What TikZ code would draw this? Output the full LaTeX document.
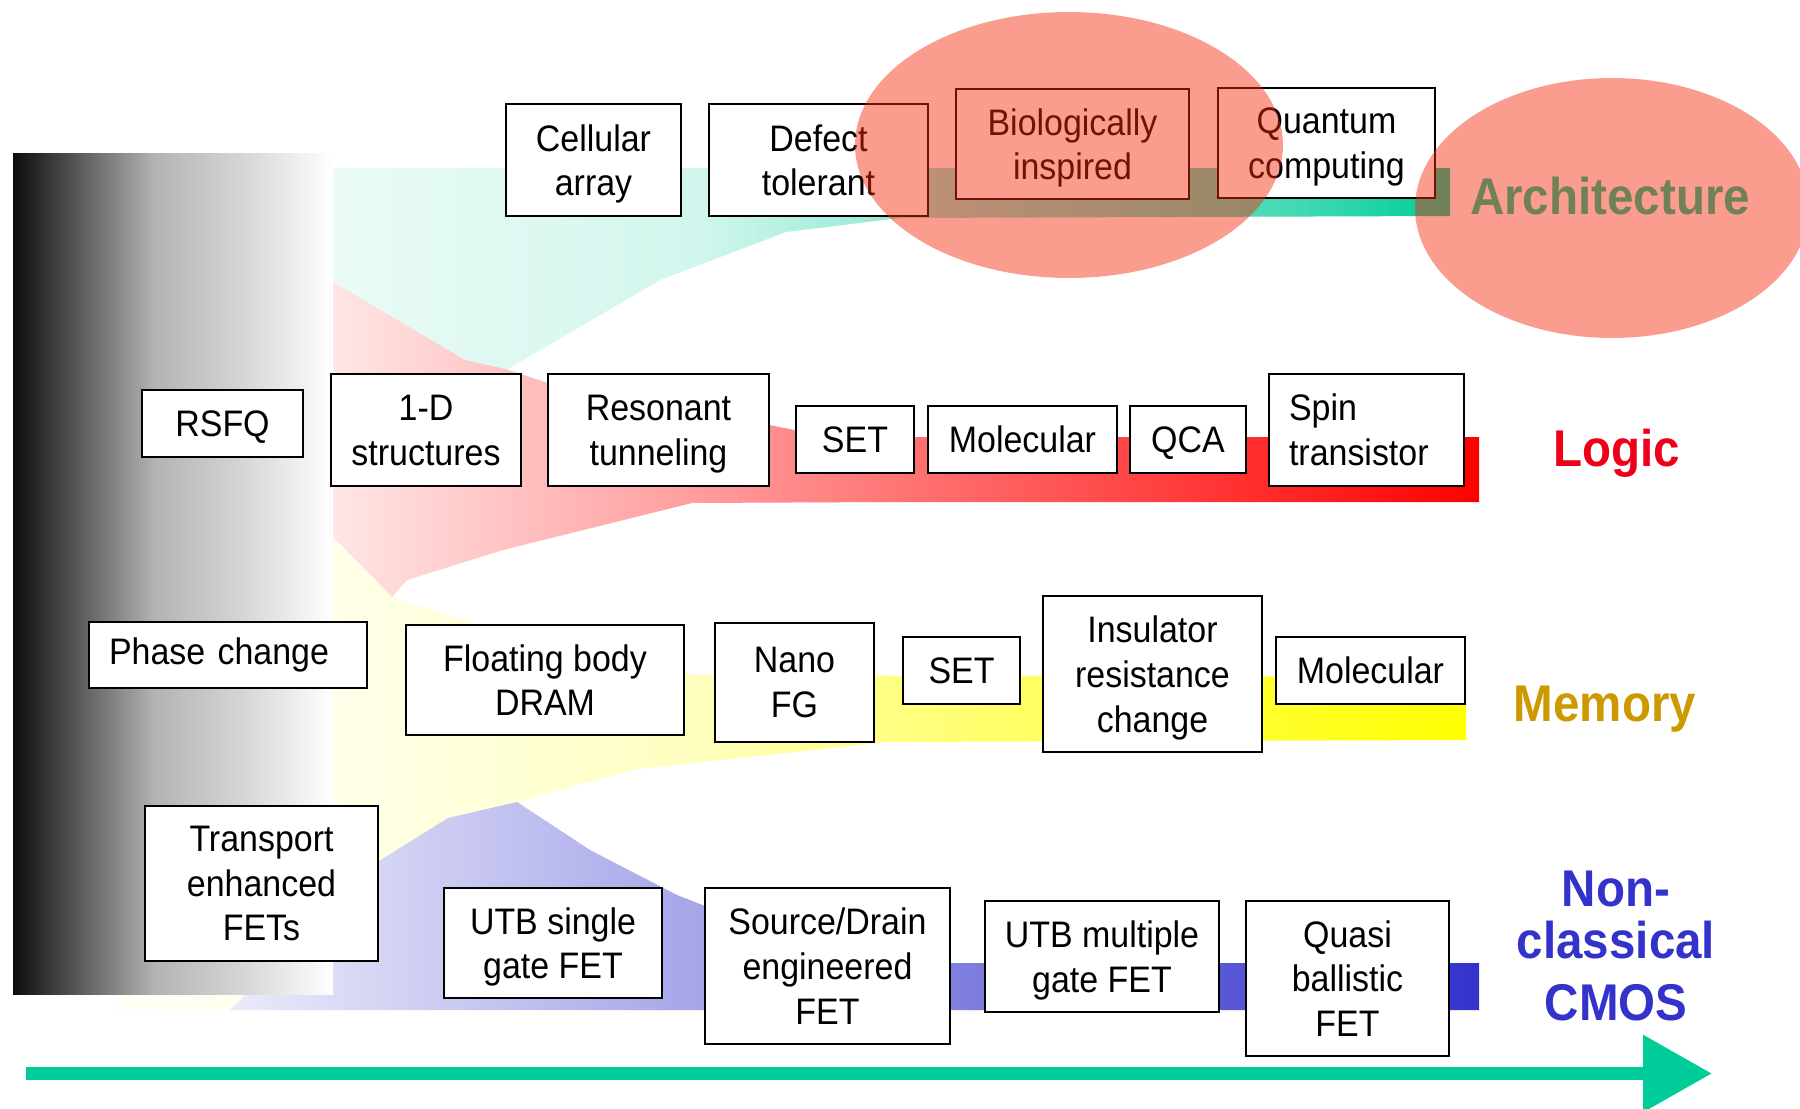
\documentclass[tikz,border=0pt]{standalone}
\usepackage{fontspec}
\setmainfont{Liberation Sans}[FakeStretch=0.92]
\usetikzlibrary{arrows.meta}

\definecolor{archgreen}{RGB}{0,204,153}
\definecolor{logicred}{RGB}{255,0,0}
\definecolor{memyellow}{RGB}{255,255,0}
\definecolor{cmosblue}{RGB}{51,51,204}
\definecolor{memgold}{RGB}{204,153,0}
\definecolor{labelred}{RGB}{238,0,24}
\definecolor{hilite}{RGB}{245,40,10}

\colorlet{barA}{black!95}
\colorlet{barB}{black!30}
\colorlet{barC}{black!15}
\colorlet{agA}{archgreen!8}
\colorlet{agB}{archgreen!18}
\colorlet{agC}{archgreen!40}
\colorlet{agD}{archgreen!75}
\colorlet{myA}{memyellow!4}
\colorlet{myB}{memyellow!8}
\colorlet{myC}{memyellow!25}
\colorlet{myD}{memyellow!48}

% dark-to-white bar on the left
\pgfdeclarehorizontalshading{fadebar}{100bp}{color(0bp)=(barA); color(25bp)=(barA); color(47bp)=(barB); color(62bp)=(barC); color(75bp)=(white); color(100bp)=(white)}
% architecture funnel
\pgfdeclarehorizontalshading{archfade}{100bp}{color(0bp)=(agA); color(25bp)=(agA); color(41.5bp)=(agB); color(49.5bp)=(agC); color(68.5bp)=(agD); color(75bp)=(archgreen); color(100bp)=(archgreen)}
% memory funnel
\pgfdeclarehorizontalshading{memfade}{100bp}{color(0bp)=(myA); color(25bp)=(myA); color(33bp)=(myB); color(46.5bp)=(myC); color(53.5bp)=(myD); color(75bp)=(memyellow); color(100bp)=(memyellow)}

\tikzset{
  tbox/.style={draw=black, fill=white, line width=1.6pt, align=center, inner sep=0pt,
               text depth=0pt, font=\fontsize{21}{25.4}\selectfont},
  rowlabel/.style={font=\fontsize{29.4}{35}\selectfont\bfseries, inner sep=0pt, anchor=base},
  halo/.style={fill=hilite, fill opacity=0.46, draw=none},
}

% \techbox{name}{x1}{y1}{x2}{y2}{text}
\newcommand\techbox[6]{\node[tbox, minimum width={(#4-#2)*0.02cm}, minimum height={(#5-#3)*0.02cm}] (#1) at ({(#2+#4)/2},{(#3+#5)/2}) {#6};}

\begin{document}
\begin{tikzpicture}[x=0.02cm, y=-0.02cm]
\useasboundingbox (0,0) rectangle (1800,1109);
\clip (0,0) rectangle (1800,1109);
\fill[white] (0,0) rectangle (1800,1109);

% ---- technology bands ----
\path[shading=archfade]
  (333,168) -- (1450,168) -- (1450,216) -- (900,218) -- (786,232) -- (660,280)
  -- (508,369) -- (420,400) -- (333,400) -- cycle;
\path[left color=logicred!10, right color=logicred]
  (333,282) -- (465,360) -- (509,370) -- (545,382) -- (769,425) -- (830,437)
  -- (1479,437) -- (1479,502) -- (889,502) -- (692,503) -- (503,550) -- (407,580)
  -- (392,597) -- (333,565) -- cycle;
\path[shading=memfade]
  (333,537) -- (392,597) -- (464,620) -- (560,660) -- (700,675) -- (1466,677)
  -- (1466,740) -- (885,742) -- (632,770) -- (517,802) -- (400,880) -- (240,1010)
  -- (115,1010) -- (250,700) -- cycle;
\path[left color=cmosblue!10, right color=cmosblue]
  (230,1010) -- (379,861) -- (448,818) -- (517,802) -- (590,850) -- (677,895)
  -- (705,906) -- (950,963) -- (1479,963) -- (1479,1010) -- cycle;

% ---- fading bar ----
\shade[shading=fadebar] (13,153) rectangle (333,994);

% ---- Architecture ----
\techbox{cell}{506}{104}{681}{216}{Cellular\\array}
\techbox{defect}{709}{104}{928}{216}{Defect\\tolerant}
\techbox{bio}{956}{89}{1189}{199}{Biologically\\inspired}
\techbox{quant}{1218}{88}{1435}{198}{Quantum\\computing}

% ---- Logic ----
\techbox{rsfq}{142}{390}{303}{457}{RSFQ}
\techbox{oned}{331}{374}{521}{486}{1-D\\structures}
\techbox{reson}{548}{374}{769}{486}{Resonant\\tunneling}
\techbox{setl}{796}{406}{914}{473}{SET}
\techbox{moll}{928}{406}{1117}{473}{Molecular}
\techbox{qca}{1130}{406}{1246}{473}{QCA}
\node[tbox, text depth={}, align=left, text width=3.1cm, minimum width=3.9cm, minimum height=2.24cm] (spin) at (1366.5,430) {Spin\\transistor};

% ---- Memory ----
\node[tbox, text depth={}, align=left, text width=4.76cm, minimum width=5.56cm, minimum height=1.32cm] (phase) at (228,655) {Phase change};
\techbox{fbd}{406}{625}{684}{735}{Floating body\\DRAM}
\techbox{nano}{715}{623}{874}{742}{Nano\\FG}
\techbox{setm}{903}{637}{1020}{704}{SET}
\techbox{insul}{1043}{596}{1262}{752}{Insulator\\resistance\\change}
\techbox{molm}{1276}{637}{1465}{704}{Molecular}

% ---- Non-classical CMOS ----
\techbox{trans}{145}{806}{378}{961}{Transport\\enhanced\\FETs}
\techbox{utbs}{444}{888}{662}{998}{UTB single\\gate FET}
\techbox{sd}{705}{888}{950}{1044}{Source/Drain\\engineered\\FET}
\techbox{utbm}{985}{901}{1219}{1012}{UTB multiple\\gate FET}
\techbox{quasi}{1246}{901}{1449}{1056}{Quasi\\ballistic\\FET}

% ---- row labels ----
\node[rowlabel, text=archgreen] (archlbl) at (1610,214) {Architecture};
\node[rowlabel, text=labelred] (logiclbl) at (1617,466) {Logic};
\node[rowlabel, text=memgold] (memlbl) at (1605,721) {Memory};
\node[rowlabel, text=cmosblue] (cmosA) at (1616,906.6) {Non-};
\node[rowlabel, text=cmosblue] (cmosB) at (1616,958.5) {classical};
\node[rowlabel, text=cmosblue] (cmosC) at (1616,1020.4) {CMOS};

% ---- time axis ----
\coordinate (tlstart) at (26,1073.5);
\coordinate (tlend) at (1712,1073.5);
\draw[archgreen, line width=0.26cm, -{Triangle[length=1.38cm, width=1.48cm]}] (tlstart) -- (tlend);

% ---- highlight ellipses ----
\fill[halo] (1069,145) ellipse [x radius=4.28cm, y radius=2.66cm];
\fill[halo] (1612,208) ellipse [x radius=3.94cm, y radius=2.6cm];
\end{tikzpicture}
\end{document}
